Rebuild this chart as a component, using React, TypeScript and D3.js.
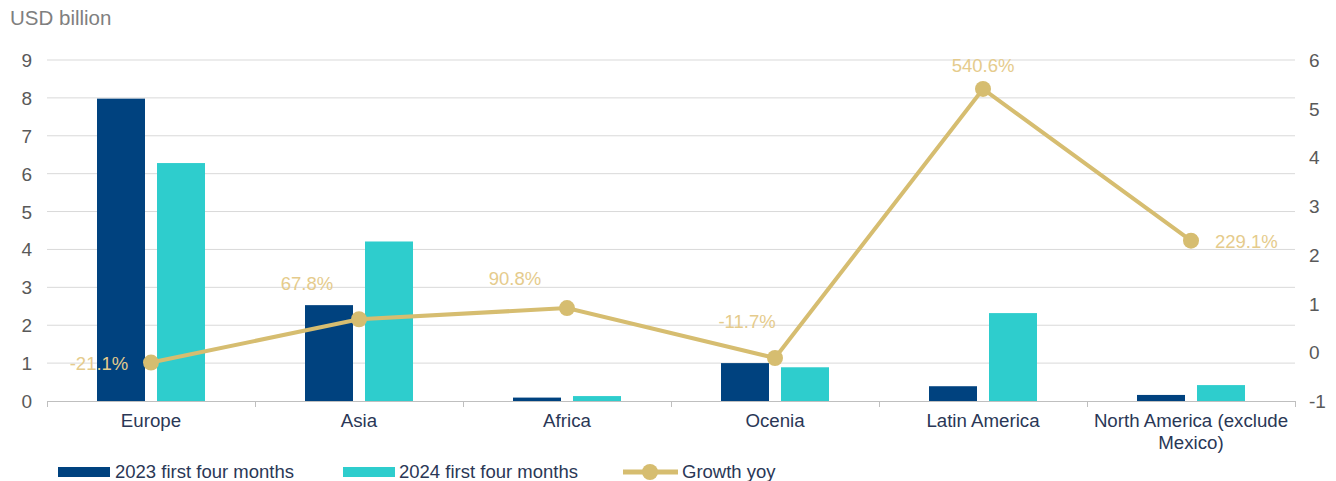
import React from "react"
import * as d3 from "d3"

const categories = ["Europe", "Asia", "Africa", "Ocenia", "Latin America", "North America (exclude Mexico)"]
const values2023 = [7.98, 2.53, 0.09, 1.0, 0.39, 0.16]
const values2024 = [6.28, 4.21, 0.13, 0.89, 2.32, 0.42]
const growth = [-0.211, 0.678, 0.908, -0.117, 5.406, 2.291]
const growthLabels = ["-21.1%", "67.8%", "90.8%", "-11.7%", "540.6%", "229.1%"]
const leftTicks = [0, 1, 2, 3, 4, 5, 6, 7, 8, 9]
const rightTicks = [-1, 0, 1, 2, 3, 4, 5, 6]

const W = 1336
const H = 481
const left = 47
const right = 1295
const top = 60
const bottom = 401

const DARK = "#00427F"
const CYAN = "#2ECDCD"
const GOLD = "#D6BD70"
const GOLD_TXT = "#E5CB8C"
const FONT = "'Liberation Sans', Arial, sans-serif"

// label placement offsets relative to point
const labelPos: [number, number, string][] = [
    [-52, 7, "middle"],
    [-52, -29, "middle"],
    [-52, -23, "middle"],
    [-28, -30, "middle"],
    [0, -17, "middle"],
    [24, 7, "start"],
]

export default function App() {
    const x = d3.scaleBand().domain(categories).range([left, right])
    const inner = d3.scaleBand().domain(["a", "b"]).range([0, 108]).paddingInner(0.2)
    const yL = d3.scaleLinear().domain([0, 9]).range([bottom, top])
    const yR = d3.scaleLinear().domain([-1, 6]).range([bottom, top])
    const cx = (c: string) => (x(c) as number) + x.bandwidth() / 2
    const off = (x.bandwidth() - 108) / 2
    const line = d3
        .line<number>()
        .x((_, i) => cx(categories[i]))
        .y((d) => yR(d))

    return (
        <svg width={W} height={H} style={{ position: "absolute", left: 0, top: 0, fontFamily: FONT }}>
            <text x={10} y={25} fontSize={20.5} fill="#7F7F7F">USD billion</text>
            {leftTicks.map((t) => (
                <g key={t}>
                    {t > 0 && <line x1={left} x2={right} y1={yL(t)} y2={yL(t)} stroke="#D9D9D9" strokeWidth={1} />}
                    <text x={32} y={yL(t) + 7} fontSize={19} fill="#595959" textAnchor="end">{t}</text>
                </g>
            ))}
            {rightTicks.map((t) => (
                <text key={t} x={1309} y={yR(t) + 7} fontSize={19} fill="#595959">{t}</text>
            ))}
            {categories.map((c, i) => (
                <g key={c}>
                    <rect x={(x(c) as number) + off + (inner("a") as number)} y={yL(values2023[i])} width={inner.bandwidth()} height={bottom - yL(values2023[i])} fill={DARK} />
                    <rect x={(x(c) as number) + off + (inner("b") as number)} y={yL(values2024[i])} width={inner.bandwidth()} height={bottom - yL(values2024[i])} fill={CYAN} />
                </g>
            ))}
            <line x1={left} x2={right} y1={bottom + 0.5} y2={bottom + 0.5} stroke="#BFBFBF" />
            {[...categories.map((c) => x(c) as number), right].map((v, i) => (
                <line key={i} x1={v + 0.5} x2={v + 0.5} y1={bottom} y2={bottom + 6} stroke="#BFBFBF" />
            ))}
            {categories.map((c) => {
                const lines = c.startsWith("North") ? ["North America (exclude", "Mexico)"] : [c]
                return (
                    <text key={c} x={cx(c)} y={427} fontSize={18.7} fill="#2A3756" textAnchor="middle">
                        {lines.map((l, j) => (
                            <tspan key={j} x={cx(c)} dy={j === 0 ? 0 : 22}>{l}</tspan>
                        ))}
                    </text>
                )
            })}
            <path d={line(growth) || ""} fill="none" stroke={GOLD} strokeWidth={4} />
            {growth.map((g, i) => (
                <circle key={i} cx={cx(categories[i])} cy={yR(g)} r={8} fill={GOLD} />
            ))}
            {growth.map((g, i) => (
                <text key={i} x={cx(categories[i]) + labelPos[i][0]} y={yR(g) + labelPos[i][1]} fontSize={18.5} fill={GOLD_TXT} textAnchor={labelPos[i][2]}>
                    {growthLabels[i]}
                </text>
            ))}
            <g fontSize={18.5} fill="#2A3756">
                <rect x={58} y={467} width={52} height={10} fill={DARK} />
                <text x={115} y={478}>2023 first four months</text>
                <rect x={343} y={467} width={52} height={10} fill={CYAN} />
                <text x={399} y={478}>2024 first four months</text>
                <line x1={623} x2={678} y1={472} y2={472} stroke={GOLD} strokeWidth={5} />
                <circle cx={650} cy={472} r={8} fill={GOLD} />
                <text x={682} y={478}>Growth yoy</text>
            </g>
        </svg>
    )
}
